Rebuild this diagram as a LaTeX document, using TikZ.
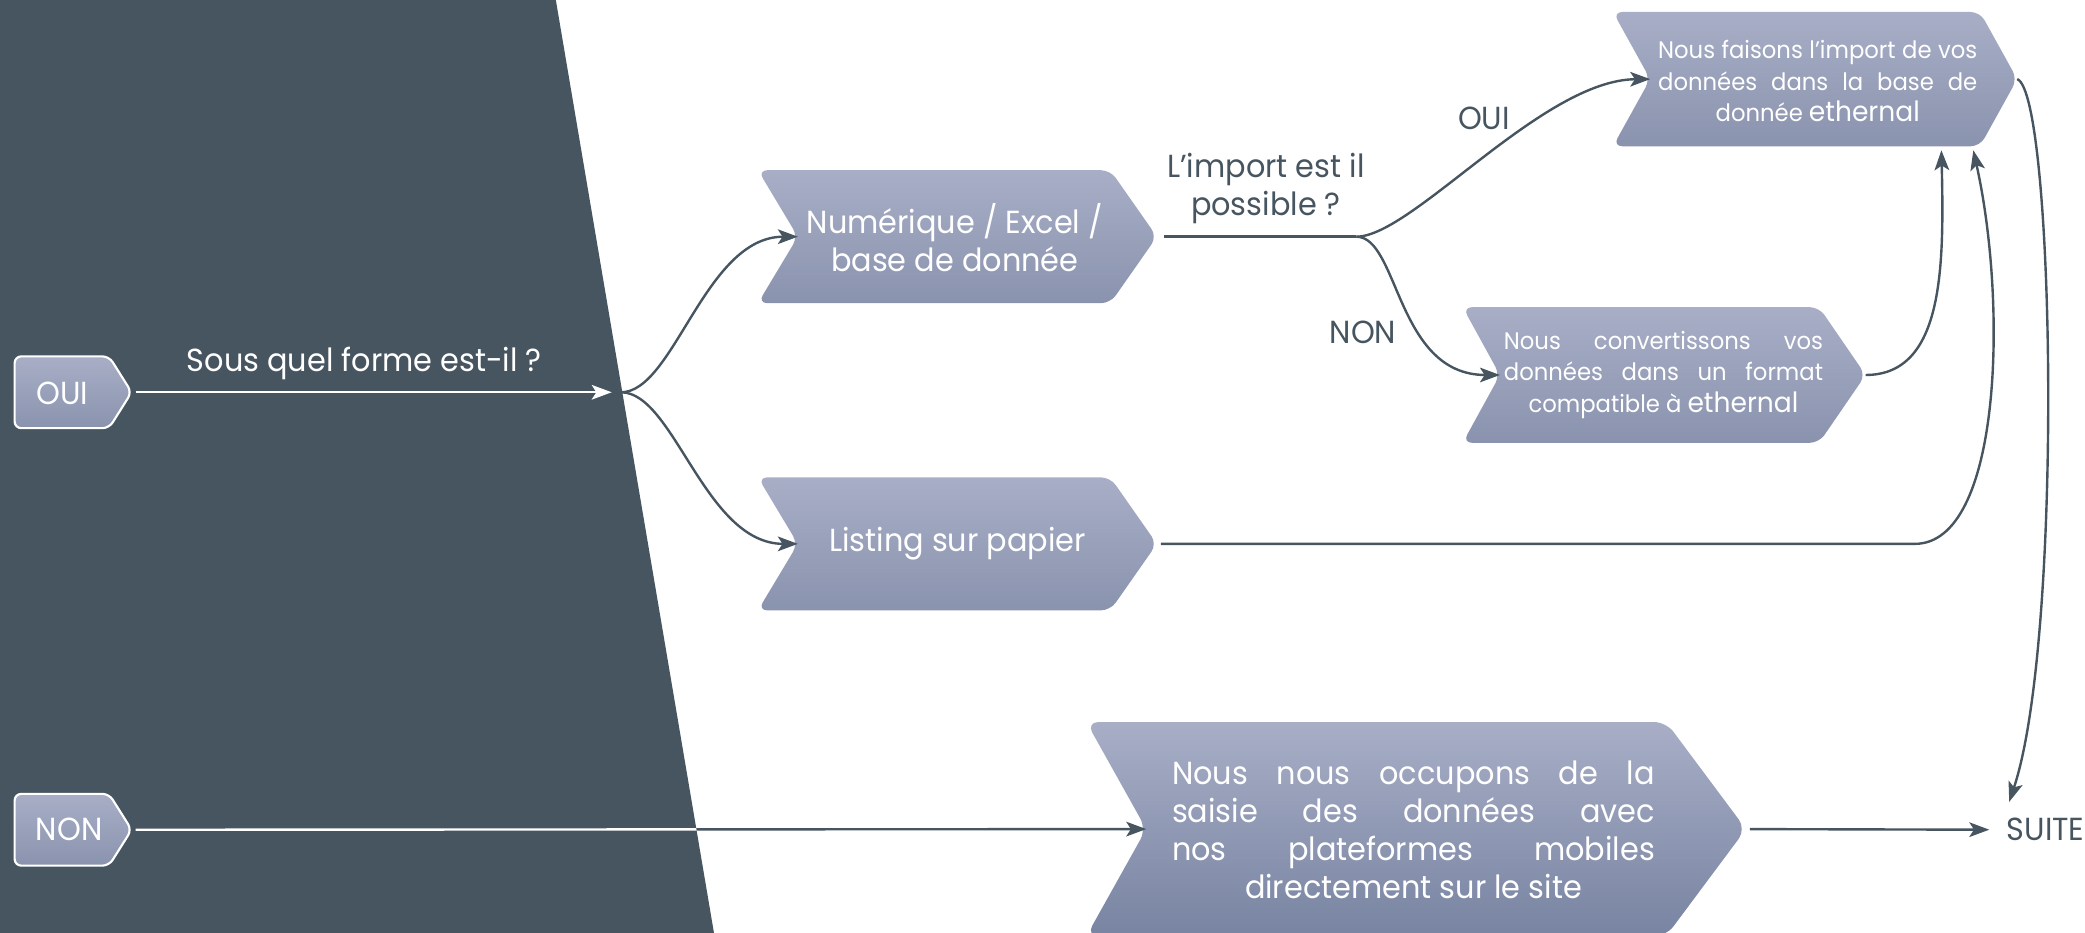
\documentclass[tikz,border=0pt]{standalone}
\usepackage{fontspec}
\setmainfont{Poppins}[FakeStretch=0.95]
\usetikzlibrary{arrows.meta}
\definecolor{darkc}{HTML}{46555F}
\definecolor{boxtop}{HTML}{A8AEC6}
\definecolor{boxbot}{HTML}{8A93AE}
\definecolor{boxbotE}{HTML}{7884A2}
\newcommand\chevshape[8]{%
  \path[#8] (#2,#3) -- ({#4-#6},#3) -- (#4,{(#3+#5)/2}) -- ({#4-#6},#5) -- (#2,#5) -- ({#2+#7},{(#3+#5)/2}) -- cycle;
  \coordinate (#1-tip) at (#4,{(#3+#5)/2});
  \coordinate (#1-notch) at ({#2+#7},{(#3+#5)/2});
}
\newcommand\ethword[1]{{\fontsize{21}{23}\selectfont #1}}
\tikzset{
  chevbox/.style={top color=boxtop, bottom color=boxbot, rounded corners=7pt},
  bigbox/.style={top color=boxtop, bottom color=boxbotE, rounded corners=9pt},
  tagbox/.style={top color=boxtop, bottom color=boxbot, rounded corners=5pt, draw=white, line width=1.6pt},
  conn/.style={draw=darkc, line width=1.8pt, -{Stealth[length=15pt,width=11pt,inset=3.5pt]}},
  plainline/.style={draw=darkc, line width=1.8pt},
  wconn/.style={draw=white, line width=1.8pt, -{Stealth[length=15pt,width=11pt,inset=3.5pt]}},
  wtxt/.style={text=white, font=\fontsize{24}{28.5}\selectfont, inner sep=0pt},
  dtxt/.style={text=darkc, font=\fontsize{24}{28.5}\selectfont, inner sep=0pt},
  stxt/.style={text=white, font=\fontsize{18}{23.5}\selectfont, inner sep=0pt},
}
\begin{document}
\begin{tikzpicture}[x=1pt,y=-1pt]
\useasboundingbox (0,0) rectangle (1568,701.6);
\fill[darkc] (0,0) -- (418,0) -- (537,702) -- (0,702) -- cycle;

% tags
\chevshape{oui}{11}{268}{99}{322}{17}{0}{tagbox}
\node[wtxt] (oui-t) at (47,296) {OUI};
\chevshape{non}{11}{597}{99}{651}{17}{0}{tagbox}
\node[wtxt] (non-t) at (52,624) {NON};

% boxes
\chevshape{A}{570}{128}{870}{228}{35}{30}{chevbox}
\node[wtxt, align=center] (A-t) at (718,179) {Numérique / Excel /\\base de donnée};
\chevshape{B}{570}{359}{870}{459}{35}{30}{chevbox}
\node[wtxt] (B-t) at (720,409) {Listing sur papier};
\chevshape{C}{1213}{9}{1517}{110}{28}{28}{chevbox}
\node[stxt, align=center] (C-t) at (1367,61) {\makebox[240pt][s]{Nous faisons l’import de vos}\\\makebox[240pt][s]{données dans la base de}\\donnée \ethword{ethernal}};
\chevshape{D}{1100}{231}{1403}{333}{35}{28}{chevbox}
\node[stxt, align=center] (D-t) at (1251,282) {\makebox[240pt][s]{Nous convertissons vos}\\\makebox[240pt][s]{données dans un format}\\compatible à \ethword{ethernal}};
\chevshape{E}{817}{543}{1313}{704}{60}{45}{bigbox}
\node[wtxt, align=center] (E-t) at (1063,624) {\makebox[363pt][s]{Nous nous occupons de la}\\\makebox[363pt][s]{saisie des données avec}\\\makebox[363pt][s]{nos plateformes mobiles}\\directement sur le site};

% labels
\node[wtxt] (l0) at (274,273) {Sous quel forme est-il ?};
\node[dtxt, align=center] (q1) at (952,142) {L’import est il\\possible ?};
\node[dtxt] (lOUI) at (1116,89) {OUI};
\node[dtxt] (lNON) at (1025,250) {NON};
\node[dtxt, anchor=west] (suite) at (1509,624) {SUITE};

% connectors
\coordinate (forkin) at (460,295);
\coordinate (fork) at (467,295);
\draw[wconn, shorten <=3pt] (oui-tip) -- (forkin);
\draw[conn] (fork) .. controls (507,295) and (530,178) .. (A-notch);
\draw[conn] (fork) .. controls (507,295) and (530,409) .. (B-notch);
\coordinate (qA) at (1020,178);
\draw[plainline, shorten <=5pt] (A-tip) -- (qA);
\draw[conn] (qA) .. controls (1062,178) and (1160,60) .. (C-notch);
\draw[conn] (qA) .. controls (1052,178) and (1050,282) .. (D-notch);
\coordinate (C-b1) at (1460,113);
\coordinate (C-b2) at (1484,113);
\draw[conn] (D-tip) .. controls (1462,282) and (1462,200) .. (C-b1);
\coordinate (bq) at (1440,409);
\draw[conn, shorten <=3pt] (B-tip) -- (bq) .. controls (1505,409) and (1510,230) .. (C-b2);
\coordinate (suite-top) at (1511,603);
\draw[conn] (C-tip) .. controls (1545,70) and (1552,480) .. (suite-top);
\draw[conn, shorten <=3pt, shorten >=13pt] (E-tip) -- (suite.west);
\draw[conn, shorten <=3pt] (non-tip) -- (E-notch);
\begin{scope}
  \clip (0,0) -- (418,0) -- (537,702) -- (0,702) -- cycle;
  \draw[draw=white, line width=1.8pt, shorten <=3pt] (non-tip) -- (E-notch);
\end{scope}
\end{tikzpicture}
\end{document}
